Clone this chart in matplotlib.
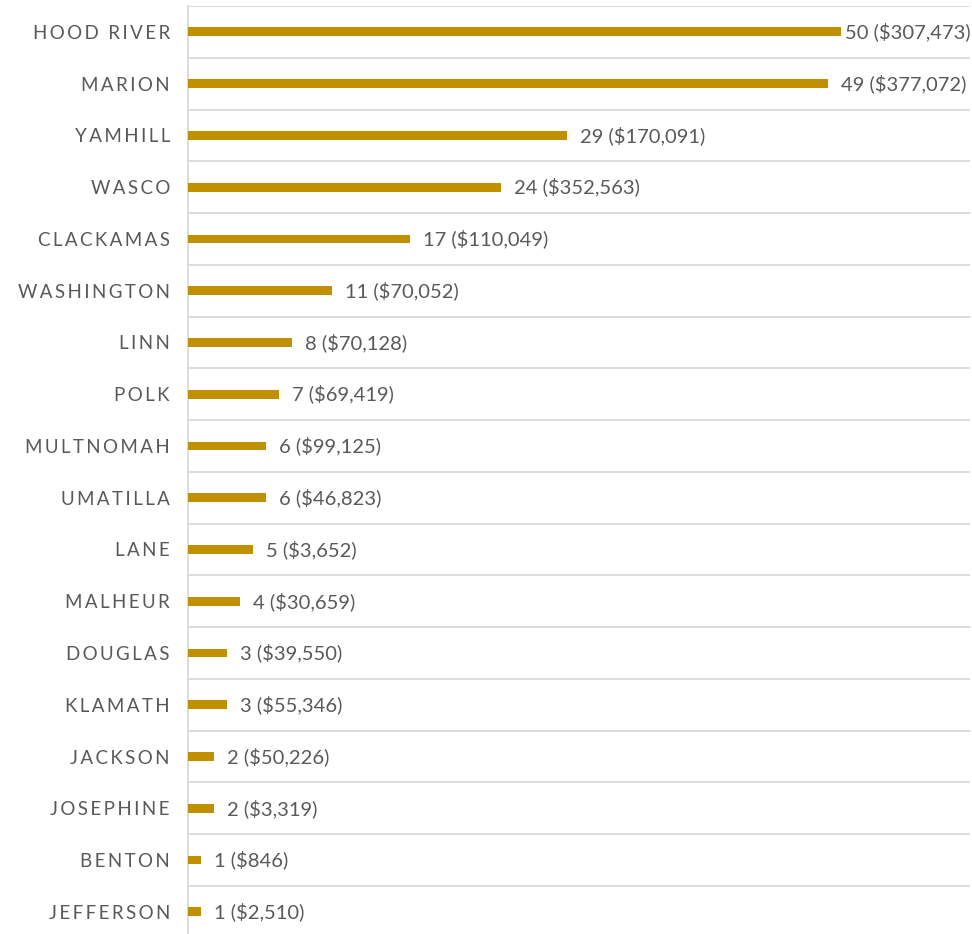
import matplotlib
matplotlib.use("Agg")
import matplotlib.pyplot as plt
import numpy as np

counties = ["HOOD RIVER", "MARION", "YAMHILL", "WASCO", "CLACKAMAS", "WASHINGTON",
            "LINN", "POLK", "MULTNOMAH", "UMATILLA", "LANE", "MALHEUR", "DOUGLAS",
            "KLAMATH", "JACKSON", "JOSEPHINE", "BENTON", "JEFFERSON"]
counts = [50, 49, 29, 24, 17, 11, 8, 7, 6, 6, 5, 4, 3, 3, 2, 2, 1, 1]
amounts = [307473, 377072, 170091, 352563, 110049, 70052, 70128, 69419, 99125,
           46823, 3652, 30659, 39550, 55346, 50226, 3319, 846, 2510]

BAR = "#C09000"
GRID = "#D9D9D9"
TXT = "#595959"
FAM = ["Lato", "DejaVu Sans"]

def spaced(s):
    return "\u2009".join(list(s))

fig = plt.figure(figsize=(9.72, 9.34), dpi=100)
W, H = 972, 934
top_px, step = 6, 51.76
n = len(counties)
bottom_px = top_px + step * n
ax = fig.add_axes([188 / W, 1 - bottom_px / H, (970 - 188) / W, (bottom_px - top_px) / H])

y = np.arange(n)
ax.barh(y, counts, height=0.17, color=BAR, zorder=3)
ax.set_ylim(n - 0.5, -0.5)
ax.set_xlim(0, 59.9)
for b in np.arange(-0.5, n, 1.0):
    ax.axhline(b, color=GRID, lw=1.3, zorder=1)
for s in ["top", "right", "bottom"]:
    ax.spines[s].set_visible(False)
ax.spines["left"].set_color(GRID)
ax.spines["left"].set_linewidth(1.3)
ax.set_xticks([])
ax.set_yticks(y)
ax.set_yticklabels([spaced(c) for c in counties], family=FAM, fontsize=13.5, color=TXT)
ax.tick_params(axis="y", length=0, pad=13)

fig.canvas.draw()
r = fig.canvas.get_renderer()
for i, (c, a) in enumerate(zip(counts, amounts)):
    label = f"{c} (${a:,})"
    t = ax.text(c, i, label, family=FAM, fontsize=14.5, color=TXT, va="center", ha="left")
    xd = ax.transData.transform((c, i))[0] + 13
    bb = t.get_window_extent(r)
    if xd + bb.width > W - 1:
        xd = W - 1 - bb.width
    x_data = ax.transData.inverted().transform((xd, 0))[0]
    t.set_x(x_data)

fig.savefig("out.png", dpi=100)
